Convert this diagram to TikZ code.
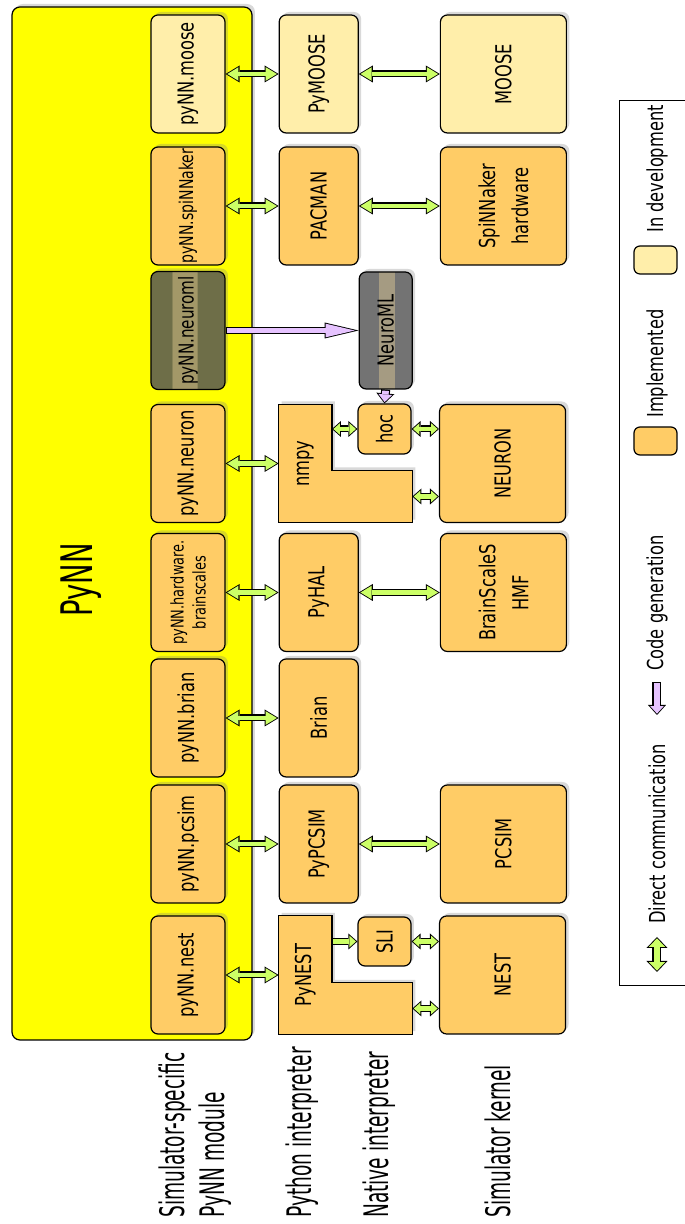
\documentclass[tikz,border=0pt]{standalone}
\usepackage{fontspec}
\setmainfont{DejaVu Sans}[FakeStretch=0.74]
\newfontfamily\lblfont{DejaVu Sans}[FakeStretch=0.55]
\newfontfamily\ttlfont{DejaVu Sans}[FakeStretch=0.63]
\usepackage{tikz}
\usetikzlibrary{arrows.meta, positioning, shadows, backgrounds}
\definecolor{pynnyellow}{HTML}{FFFF00}
\definecolor{implorange}{HTML}{FFCC66}
\definecolor{devcream}{HTML}{FFEEAA}
\definecolor{commgreen}{HTML}{CCFF66}
\definecolor{genpurple}{HTML}{E6C3FF}
\definecolor{nmldark}{HTML}{6E6E48}
\definecolor{nmllight}{HTML}{A39868}
\definecolor{xmldark}{HTML}{737373}
\definecolor{xmllight}{HTML}{A59B82}
\pgfdeclarehorizontalshading{pynmlband}{100bp}{color(0bp)=(nmldark); color(39bp)=(nmldark); color(39.1bp)=(nmllight); color(56bp)=(nmllight); color(56.1bp)=(nmldark); color(100bp)=(nmldark)}
\pgfdeclarehorizontalshading{nmlband}{100bp}{color(0bp)=(xmldark); color(43bp)=(xmldark); color(43.1bp)=(xmllight); color(58bp)=(xmllight); color(58.1bp)=(xmldark); color(100bp)=(xmldark)}

\begin{document}
\begin{tikzpicture}[rotate=90, transform shape, x=1pt, y=1pt,
  box/.style={rectangle, rounded corners=7pt, draw=black, line width=1.2pt, align=center, inner sep=1pt,
    font=\fontsize{22}{33}\selectfont, minimum width=118pt,
    drop shadow={opacity=0.3, shadow xshift=3pt, shadow yshift=3pt}},
  impl/.style={box, fill=implorange},
  dev/.style={box, fill=devcream},
  modbox/.style={minimum height=74pt},
  pybox/.style={minimum height=79pt},
  natbox/.style={minimum height=53pt},
  kernbox/.style={minimum height=126pt},
  lpart/.style={rectangle, inner sep=0pt, font=\fontsize{22}{33}\selectfont},
  lshape/.style={draw=black, line width=1.2pt, fill=implorange,
    drop shadow={opacity=0.3, shadow xshift=3pt, shadow yshift=3pt}},
  swatch/.style={rectangle, rounded corners=6pt, draw=black, line width=1.2pt, minimum width=28pt, minimum height=43pt},
  lbl/.style={anchor=west, inner sep=0pt, align=left, font=\lblfont\fontsize{33.8}{40.5}\selectfont},
  leg/.style={anchor=west, inner sep=0pt, font=\fontsize{22}{26}\selectfont},
  comm/.style={draw=black, line width=7pt,
    {Triangle[length=14pt,width=17pt,line width=0pt 0]}-{Triangle[length=14pt,width=17pt,line width=0pt 0]},
    postaction={draw=commgreen, line width=4.6pt, shorten <=1.7pt, shorten >=1.7pt,
      {Triangle[length=11.2pt,width=13.6pt,line width=0pt 0]}-{Triangle[length=11.2pt,width=13.6pt,line width=0pt 0]}}},
  commshort/.style={draw=black, line width=7pt,
    {Triangle[length=9pt,width=16pt,line width=0pt 0]}-{Triangle[length=9pt,width=16pt,line width=0pt 0]},
    postaction={draw=commgreen, line width=4.6pt, shorten <=1.4pt, shorten >=1.4pt,
      {Triangle[length=6.5pt,width=11.6pt,line width=0pt 0]}-{Triangle[length=6.5pt,width=11.6pt,line width=0pt 0]}}},
  commleg/.style={draw=black, line width=9pt,
    {Triangle[length=11pt,width=21pt,line width=0pt 0]}-{Triangle[length=11pt,width=21pt,line width=0pt 0]},
    postaction={draw=commgreen, line width=6.6pt, shorten <=1.4pt, shorten >=1.4pt,
      {Triangle[length=8.5pt,width=16.4pt,line width=0pt 0]}-{Triangle[length=8.5pt,width=16.4pt,line width=0pt 0]}}},
  commone/.style={draw=black, line width=7pt, -{Triangle[length=9pt,width=16pt,line width=0pt 0]},
    postaction={draw=commgreen, line width=4.6pt, shorten <=1.2pt, shorten >=1.4pt,
      -{Triangle[length=6.5pt,width=11.6pt,line width=0pt 0]}}},
  codegen/.style={draw=black, line width=7pt, -{Triangle[length=34pt,width=16pt,line width=0pt 0]},
    postaction={draw=genpurple, line width=4.6pt, shorten <=1.2pt, shorten >=3.9pt,
      -{Triangle[length=29pt,width=13.6pt,line width=0pt 0]}}},
  codegensmall/.style={draw=black, line width=9pt, -{Triangle[length=10pt,width=18pt,line width=0pt 0]},
    postaction={draw=genpurple, line width=6.6pt, shorten <=1.2pt, shorten >=1.35pt,
      -{Triangle[length=7.6pt,width=13.7pt,line width=0pt 0]}}}]
  \useasboundingbox (0,0) rectangle (1224,685);

  % PyNN frame
  \node[draw=black, line width=1.2pt, fill=pynnyellow, rounded corners=8pt, minimum width=1033pt, minimum height=240pt,
    drop shadow={opacity=0.3, shadow xshift=3pt, shadow yshift=3pt}] (pynn) at (700.5,553) {};
  \node[font=\ttlfont\fontsize{43.5}{50}\selectfont] (pynntitle) at (644,604) {PyNN};

  % simulator-specific PyNN modules
  \node[impl, modbox] (pnest) at (249,497) {pyNN.nest};
  \node[impl, modbox] (ppcsim) at (380,497) {pyNN.pcsim};
  \node[impl, modbox] (pbrian) at (506,497) {pyNN.brian};
  \node[impl, modbox, font=\fontsize{17.5}{22}\selectfont] (pbss) at (631.5,497) {pyNN.hardware.\\brainscales};
  \node[impl, modbox] (pneuron) at (760.5,497) {pyNN.neuron};
  \node[box, modbox, shading=pynmlband, font=\fontsize{20.5}{26}\selectfont] (pnml) at (893.5,497) {pyNN.neuroml};
  \node[impl, modbox, font=\fontsize{19}{24}\selectfont] (pspinn) at (1018,497) {pyNN.spiNNaker};
  \node[dev, modbox] (pmoose) at (1150,497) {pyNN.moose};

  % Python interpreters
  \node[lpart, minimum width=118pt, minimum height=53pt, below=53pt of pnest] (pynest) {PyNEST};
  \node[lpart, minimum width=51pt, minimum height=80pt, anchor=north west] (pynestft) at (pynest.south west) {};
  \node[impl, pybox, below=53pt of ppcsim] (pypcsim) {PyPCSIM};
  \node[impl, pybox, below=53pt of pbrian] (brian) {Brian};
  \node[impl, pybox, below=53pt of pbss] (pyhal) {PyHAL};
  \node[lpart, minimum width=118pt, minimum height=53pt, below=53pt of pneuron] (nmpy) {nmpy};
  \node[lpart, minimum width=52pt, minimum height=80pt, anchor=north west] (nmpyft) at (nmpy.south west) {};
  \node[impl, pybox, below=53pt of pspinn] (pacman) {PACMAN};
  \node[dev, pybox, below=53pt of pmoose] (pymoose) {PyMOOSE};

  \begin{scope}[on background layer]
    \draw[lshape] (pynest.north west) -- (pynest.north east) -- (pynest.south east) -- (pynestft.north east)
      -- (pynestft.south east) -- (pynestft.south west) -- cycle;
    \draw[lshape] (nmpy.north west) -- (nmpy.north east) -- (nmpy.south east) -- (nmpyft.north east)
      -- (nmpyft.south east) -- (nmpyft.south west) -- cycle;
  \end{scope}

  % native interpreters
  \node[impl, natbox, minimum width=49pt] (sli) at (282.5,300.5) {SLI};
  \node[impl, natbox, minimum width=50pt] (hoc) at (795,300.5) {hoc};
  \node[box, natbox, minimum width=117pt, shading=nmlband, below=133pt of pnml] (nml) {NeuroML};

  % simulator kernels
  \node[impl, kernbox, below=107pt of pynest] (nest) {NEST};
  \node[impl, kernbox, below=81pt of pypcsim] (pcsim) {PCSIM};
  \node[impl, kernbox, below=81pt of pyhal] (bss) {BrainScaleS\\HMF};
  \node[impl, kernbox, below=107pt of nmpy] (neuron) {NEURON};
  \node[impl, kernbox, below=81pt of pacman] (spinn) {SpiNNaker\\hardware};
  \node[dev, kernbox, below=81pt of pymoose] (moose) {MOOSE};

  % connections
  \draw[comm] (pnest.south) -- (pynest.north);
  \draw[commone] (sli.north |- pynest.south) -- (sli.north);
  \draw[commshort] (sli.south) -- (sli.south |- nest.north);
  \draw[commshort] (pynestft.south) -- (pynestft.south |- nest.north);
  \draw[comm] (ppcsim.south) -- (pypcsim.north);
  \draw[comm] (pypcsim.south) -- (pcsim.north);
  \draw[comm] (pbrian.south) -- (brian.north);
  \draw[comm] (pbss.south) -- (pyhal.north);
  \draw[comm] (pyhal.south) -- (bss.north);
  \draw[comm] (pneuron.south) -- (nmpy.north);
  \draw[commshort] (hoc.north |- nmpy.south) -- (hoc.north);
  \draw[commshort] (hoc.south) -- (hoc.south |- neuron.north);
  \draw[commshort] (nmpyft.south) -- (nmpyft.south |- neuron.north);
  \draw[codegen] (pnml.south) -- (nml.north);
  \draw[codegensmall] (nml.west) -- (hoc.east);
  \draw[comm] (pspinn.south) -- (pacman.north);
  \draw[comm] (pacman.south) -- (spinn.north);
  \draw[comm] (pmoose.south) -- (pymoose.north);
  \draw[comm] (pymoose.south) -- (moose.north);

  % tier labels
  \node[lbl] (lblmod) at (6,490) {Simulator-specific\\PyNN module};
  \node[lbl] (lblpy) at (6,383) {Python interpreter};
  \node[lbl] (lblnat) at (6,306) {Native interpreter};
  \node[lbl] (lblkern) at (6,187) {Simulator kernel};

  % legend
  \node[draw=black, line width=0.6pt, minimum width=885pt, minimum height=80pt, inner sep=0pt] (legend) at (681.5,26) {};
  \coordinate (lcommA) at (252,28);
  \coordinate (lcommB) at (287,28);
  \draw[commleg] (lcommA) -- (lcommB);
  \node[leg] (lcomm) at (300,28) {Direct communication};
  \coordinate (lgenA) at (542,28);
  \coordinate (lgenB) at (509,28);
  \draw[codegensmall] (lgenA) -- (lgenB);
  \node[leg] (lgen) at (553,28) {Code generation};
  \node[swatch, fill=implorange] (limpl) at (783,29.5) {};
  \node[leg] (limpltxt) at (806,28) {Implemented};
  \node[swatch, fill=devcream] (ldev) at (964,29.5) {};
  \node[leg] (ldevtxt) at (991,28) {In development};
\end{tikzpicture}
\end{document}
